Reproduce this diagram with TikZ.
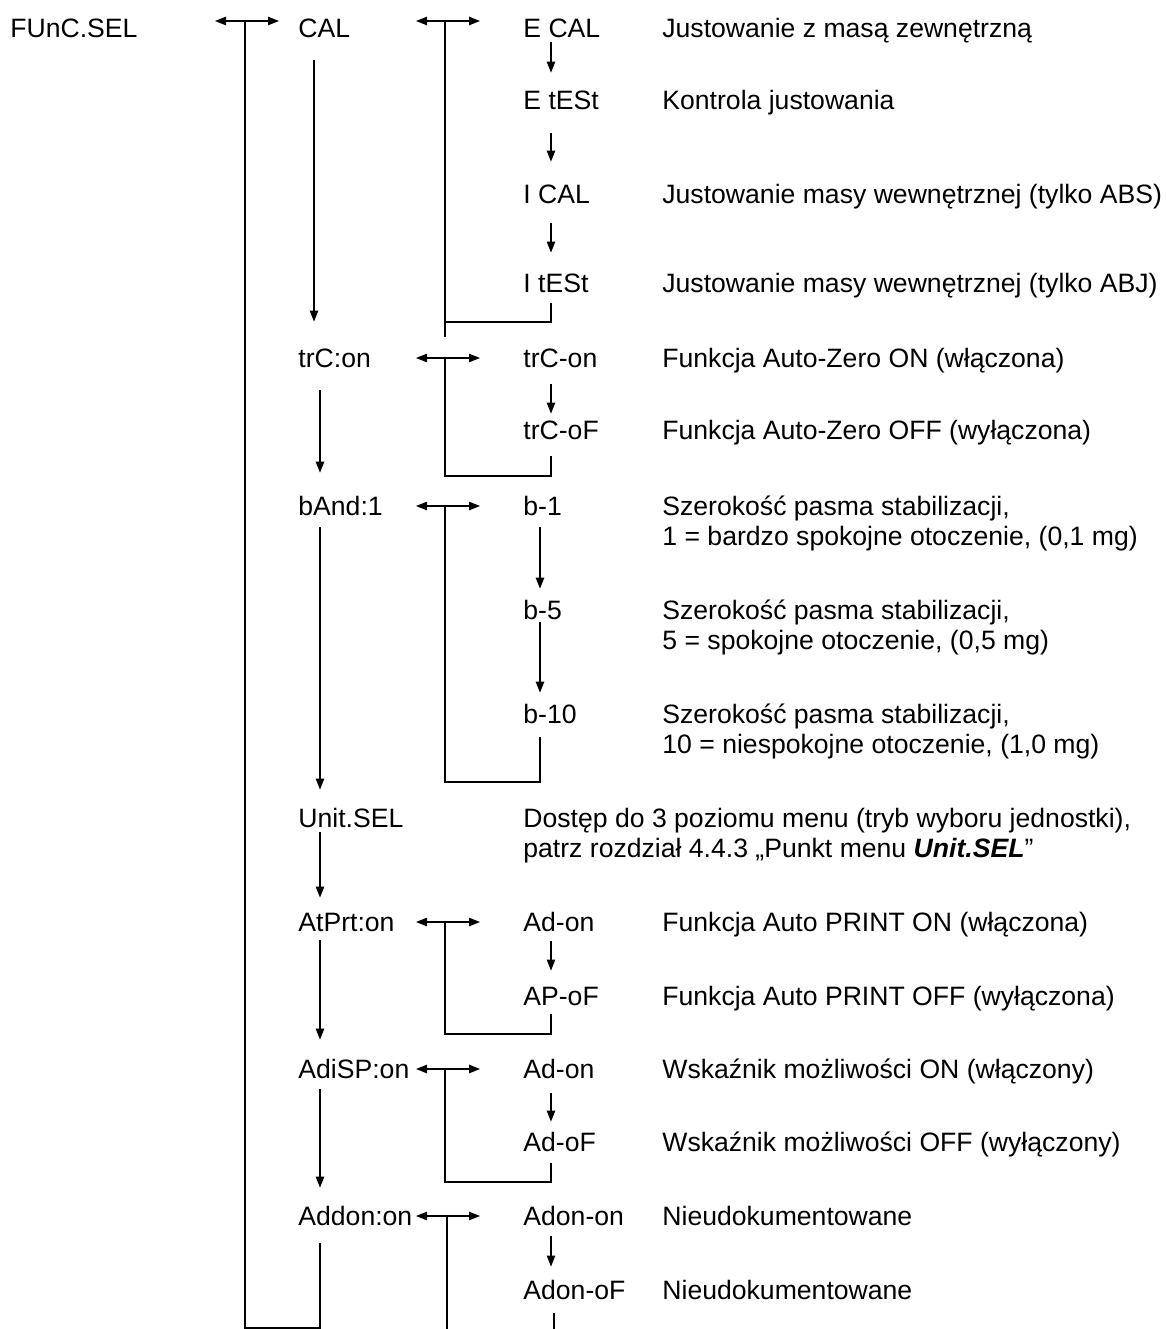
\documentclass[tikz,border=0pt]{standalone}
\usepackage{fontspec}
\setmainfont{Liberation Sans}
\usepackage{tikz}
\usetikzlibrary{arrows.meta,positioning,calc}
\newcommand{\menufont}{\fontsize{13.3pt}{15pt}\selectfont}
\tikzset{
  lbl/.style={font=\menufont,inner sep=0pt,text height=9.5pt,text depth=0pt,
              anchor=west},
  desc/.style={lbl},
  arr/.style={-{Triangle[length=5.5pt,width=4.2pt]},line width=0.7pt},
  darr/.style={{Triangle[length=5.5pt,width=4.2pt]}-{Triangle[length=5.5pt,width=4.2pt]},
               line width=0.7pt},
  ret/.style={line width=0.7pt}
}
\begin{document}
\begin{tikzpicture}[x=0.5pt,y=-0.5pt]
    \path[use as bounding box,fill=white] (0,0) rectangle (1166,1329);
    % columns and rows of the connectors
    \coordinate (l0) at (215,0);
    \coordinate (j0) at (245,0);
    \coordinate (r0) at (279,0);
    \coordinate (cA) at (314,0);
    \coordinate (c1) at (320,0);
    \coordinate (la) at (416,0);
    \coordinate (jn) at (445,0);
    \coordinate (jd) at (447,0);
    \coordinate (ra) at (480,0);
    \coordinate (cb) at (540,0);
    \coordinate (c2) at (551,0);
    \coordinate (cd) at (554,0);
    \coordinate (toprow) at (0,21);
    \coordinate (bk0) at (0,1328);
    \coordinate (bk1) at (0,322);
    \coordinate (bk2) at (0,476);
    \coordinate (bk3) at (0,782);
    \coordinate (bk4) at (0,1034);
    \coordinate (bk5) at (0,1182);
    \coordinate (bottom) at (0,1329);

    % level 1 and 2
    \node[lbl] (funcsel) at (10,28) {FUnC.SEL};
    \node[lbl] (cal) at (298,28) {CAL};
    \node[lbl] (trc) at (298,358) {trC:on};
    \node[lbl] (band) at (298,506) {bAnd:1};
    \node[lbl] (unit) at (298,818) {Unit.SEL};
    \node[lbl] (atprt) at (298,922) {AtPrt:on};
    \node[lbl] (adisp) at (298,1069) {AdiSP:on};
    \node[lbl] (addon) at (298,1216) {Addon:on};

    % level 3
    \node[lbl] (ecal) at (523,28) {E CAL};
    \node[lbl] (etest) at (523,100) {E tESt};
    \node[lbl] (ical) at (523,194) {I CAL};
    \node[lbl] (itest) at (523,283) {I tESt};
    \node[lbl] (trcon) at (523,358) {trC-on};
    \node[lbl] (trcof) at (523,430) {trC-oF};
    \node[lbl] (bone) at (523,506) {b-1};
    \node[lbl] (bfive) at (523,610) {b-5};
    \node[lbl] (bten) at (523,714) {b-10};
    \node[desc] (unittxt) at (523,818)
      {\begin{tabular}[t]{@{}l@{}}Dostęp do 3 poziomu menu (tryb wyboru jednostki),\\
       patrz rozdział 4.4.3 „Punkt menu \textbf{\textit{Unit.SEL}}”\end{tabular}};
    \node[lbl] (adon) at (523,922) {Ad-on};
    \node[lbl] (apof) at (523,996) {AP-oF};
    \node[lbl] (adison) at (523,1069) {Ad-on};
    \node[lbl] (adisof) at (523,1142) {Ad-oF};
    \node[lbl] (adonon) at (523,1216) {Adon-on};
    \node[lbl] (adonof) at (523,1290) {Adon-oF};

    % descriptions
    \node[desc] (ecaltxt) at (662,28) {Justowanie z masą zewnętrzną};
    \node[desc] (etesttxt) at (662,100) {Kontrola justowania};
    \node[desc] (icaltxt) at (662,194) {Justowanie masy wewnętrznej (tylko ABS)};
    \node[desc] (itesttxt) at (662,283) {Justowanie masy wewnętrznej (tylko ABJ)};
    \node[desc] (trcontxt) at (662,358) {Funkcja Auto-Zero ON (włączona)};
    \node[desc] (trcoftxt) at (662,430) {Funkcja Auto-Zero OFF (wyłączona)};
    \node[desc] (bonetxt) at (662,506)
      {\begin{tabular}[t]{@{}l@{}}Szerokość pasma stabilizacji,\\
       1 = bardzo spokojne otoczenie, (0,1 mg)\end{tabular}};
    \node[desc] (bfivetxt) at (662,610)
      {\begin{tabular}[t]{@{}l@{}}Szerokość pasma stabilizacji,\\
       5 = spokojne otoczenie, (0,5 mg)\end{tabular}};
    \node[desc] (btentxt) at (662,714)
      {\begin{tabular}[t]{@{}l@{}}Szerokość pasma stabilizacji,\\
       10 = niespokojne otoczenie, (1,0 mg)\end{tabular}};
    \node[desc] (adontxt) at (662,922) {Funkcja Auto PRINT ON (włączona)};
    \node[desc] (apoftxt) at (662,996) {Funkcja Auto PRINT OFF (wyłączona)};
    \node[desc] (adisontxt) at (662,1069) {Wskaźnik możliwości ON (włączony)};
    \node[desc] (adisoftxt) at (662,1142) {Wskaźnik możliwości OFF (wyłączony)};
    \node[desc] (adonontxt) at (662,1216) {Nieudokumentowane};
    \node[desc] (adonoftxt) at (662,1290) {Nieudokumentowane};

    % double arrows into the next level
    \draw[darr] (toprow -| l0) -- (toprow -| r0);
    \draw[darr] (toprow -| la) -- (toprow -| ra);
    \draw[darr] (trc.west -| la) -- (trcon.west -| ra);
    \draw[darr] (band.west -| la) -- (bone.west -| ra);
    \draw[darr] (atprt.west -| la) -- (adon.west -| ra);
    \draw[darr] (adisp.west -| la) -- (adison.west -| ra);
    \draw[darr] (addon.west -| la) -- (adonon.west -| ra);

    % level 2 sequence
    \draw[arr,shorten <=11.25pt,shorten >=13.25pt] (cal.south -| cA) -- (trc.north -| cA);
    \draw[arr,shorten <=11.25pt,shorten >=11.75pt] (trc.south -| c1) -- (band.north -| c1);
    \draw[arr,shorten <=5.75pt,shorten >=9.25pt] (band.south -| c1) -- (unit.north -| c1);
    \draw[arr,shorten <=2.25pt,shorten >=7.25pt] (unit.south -| c1) -- (atprt.north -| c1);
    \draw[arr,shorten <=4.25pt,shorten >=9.75pt] (atprt.south -| c1) -- (adisp.north -| c1);
    \draw[arr,shorten <=5.25pt,shorten >=9.25pt] (adisp.south -| c1) -- (addon.north -| c1);
    \draw[ret,shorten <=8.75pt] (addon.south -| c1) -- (bk0 -| c1) -- (bk0 -| j0)
      -- (toprow -| j0);

    % level 3 sequences
    \draw[arr,shorten <=2.25pt,shorten >=8.75pt] (ecal.south -| c2) -- (etest.north -| c2);
    \draw[arr,shorten <=11.75pt,shorten >=11.25pt] (etest.south -| c2) -- (ical.north -| c2);
    \draw[arr,shorten <=9.75pt,shorten >=10.25pt] (ical.south -| c2) -- (itest.north -| c2);
    \draw[arr,shorten <=8.25pt,shorten >=3.25pt] (trcon.south -| c2) -- (trcof.north -| c2);
    \draw[arr,shorten <=5.75pt,shorten >=5.75pt] (bone.south -| cb) -- (bfive.north -| cb);
    \draw[arr,shorten <=1.25pt,shorten >=5.75pt] (bfive.south -| cb) -- (bten.north -| cb);
    \draw[arr,shorten <=4.75pt,shorten >=7.75pt] (adon.south -| c2) -- (apof.north -| c2);
    \draw[arr,shorten <=7.25pt,shorten >=5.25pt] (adison.south -| c2) -- (adisof.north -| c2);
    \draw[arr,shorten <=5.25pt,shorten >=6.75pt] (adonon.south -| c2) -- (adonof.north -| c2);

    % returns to level 2
    \draw[ret] (toprow -| jn) -- ++(0,316);
    \draw[ret,shorten <=5.25pt] (itest.south -| c2) -- (bk1 -| c2) -- (bk1 -| jn);
    \draw[ret,shorten <=8.25pt] (trcof.south -| c2) -- (bk2 -| c2) -- (bk2 -| jn)
      -- (trc.west -| jn);
    \draw[ret,shorten <=6.75pt] (bten.south -| cb) -- (bk3 -| cb) -- (bk3 -| jn)
      -- (band.west -| jn);
    \draw[ret,shorten <=4.25pt] (apof.south -| c2) -- (bk4 -| c2) -- (bk4 -| jn)
      -- (atprt.west -| jn);
    \draw[ret,shorten <=5.75pt] (adisof.south -| c2) -- (bk5 -| c2) -- (bk5 -| jn)
      -- (adisp.west -| jn);
    \draw[ret] (addon.west -| jd) -- (bottom -| jd);
    \draw[ret,shorten <=6.75pt] (adonof.south -| cd) -- (bottom -| cd);
  \end{tikzpicture}
\end{document}
